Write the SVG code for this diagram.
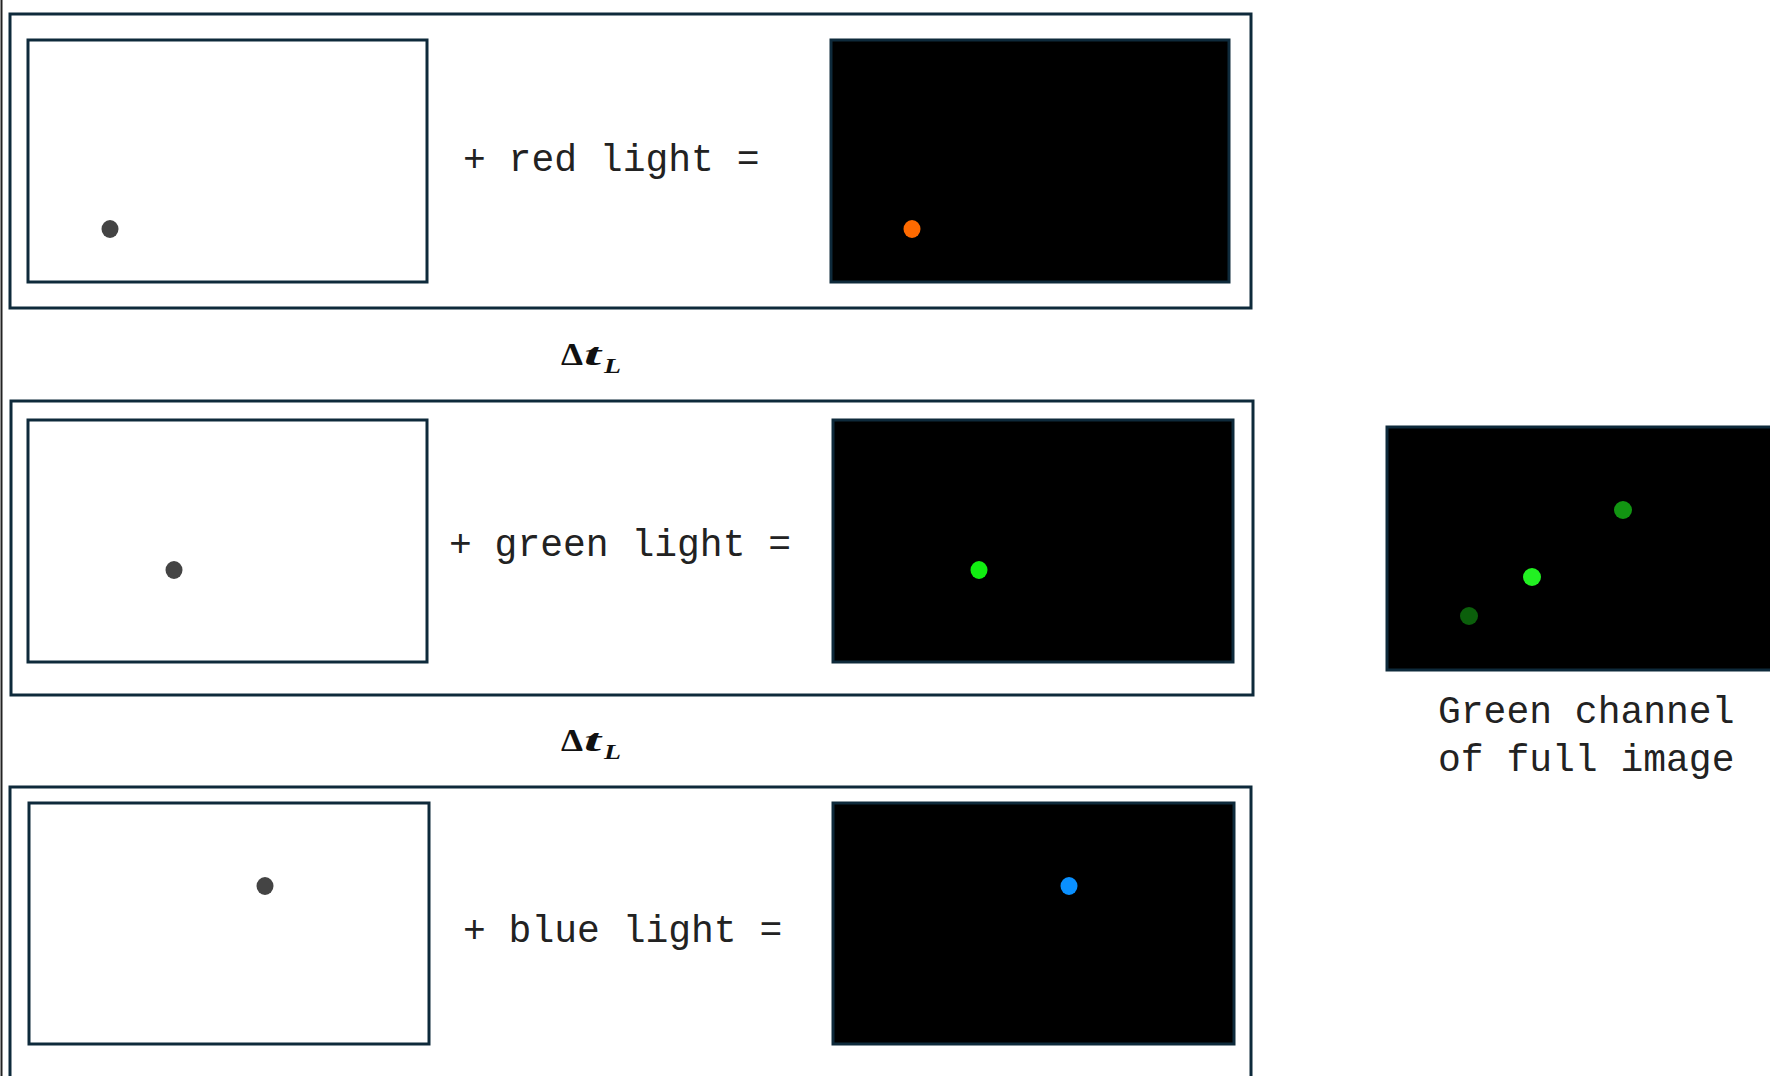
<svg xmlns="http://www.w3.org/2000/svg" width="1770" height="1076" viewBox="0 0 1770 1076">
<style>
.frame{fill:#ffffff;stroke:#0e2a3b;stroke-width:3}
.scene{fill:#ffffff;stroke:#0e2a3b;stroke-width:3}
.dark{fill:#000000;stroke:#0e2a3b;stroke-width:3}
.lbl{font-family:"Liberation Mono","Courier New",monospace;font-size:38px;fill:#222222}
.math{font-family:"Liberation Serif","Times New Roman",serif;fill:#111111;font-weight:bold}
.obj{fill:#444444}
</style>
<rect x="0" y="0" width="1770" height="1076" fill="#ffffff"/>
<line x1="1.5" y1="0" x2="1.5" y2="1076" stroke="#222222" stroke-width="2"/>
<g id="connectors"/>
<g id="panel-red">
  <rect class="frame" x="10" y="14" width="1241" height="294"/>
  <rect class="scene" x="28" y="40" width="399" height="242"/>
  <ellipse class="obj" cx="110" cy="229" rx="8.5" ry="9"/>
  <text class="lbl" x="463" y="171">+ red light =</text>
  <rect class="dark" x="831" y="40" width="398" height="242"/>
  <ellipse cx="912" cy="229" rx="8.5" ry="9" fill="#ff6a00"/>
</g>
<g id="delta-1" class="math">
  <text x="561" y="365" font-size="31" textLength="22" lengthAdjust="spacingAndGlyphs">Δ</text>
  <text x="584" y="365" font-size="31" font-style="italic" textLength="17" lengthAdjust="spacingAndGlyphs">t</text>
  <text x="604" y="373" font-size="22" font-style="italic" textLength="17" lengthAdjust="spacingAndGlyphs">L</text>
</g>
<g id="panel-green">
  <rect class="frame" x="11" y="401" width="1242" height="294"/>
  <rect class="scene" x="28" y="420" width="399" height="242"/>
  <ellipse class="obj" cx="174" cy="570" rx="8.5" ry="9"/>
  <text class="lbl" x="449" y="556">+ green light =</text>
  <rect class="dark" x="833" y="420" width="400" height="242"/>
  <ellipse cx="979" cy="570" rx="8.5" ry="9" fill="#11ee11"/>
</g>
<g id="delta-2" class="math">
  <text x="561" y="751" font-size="31" textLength="22" lengthAdjust="spacingAndGlyphs">Δ</text>
  <text x="584" y="751" font-size="31" font-style="italic" textLength="17" lengthAdjust="spacingAndGlyphs">t</text>
  <text x="604" y="759" font-size="22" font-style="italic" textLength="17" lengthAdjust="spacingAndGlyphs">L</text>
</g>
<g id="panel-blue">
  <rect class="frame" x="10" y="787" width="1241" height="320"/>
  <rect class="scene" x="29" y="803" width="400" height="241"/>
  <ellipse class="obj" cx="265" cy="886" rx="8.5" ry="9"/>
  <text class="lbl" x="463" y="942">+ blue light =</text>
  <rect class="dark" x="833" y="803" width="401" height="241"/>
  <ellipse cx="1069" cy="886" rx="8.5" ry="9" fill="#0a90ff"/>
</g>
<g id="green-channel">
  <rect class="dark" x="1387" y="427" width="400" height="243"/>
  <circle cx="1469" cy="616" r="9" fill="#0b5f0b"/>
  <circle cx="1623" cy="510" r="9" fill="#129512"/>
  <circle cx="1532" cy="577" r="9" fill="#22f022"/>
  <text class="lbl" x="1438" y="723">Green channel</text>
  <text class="lbl" x="1438" y="771">of full image</text>
</g>
</svg>
